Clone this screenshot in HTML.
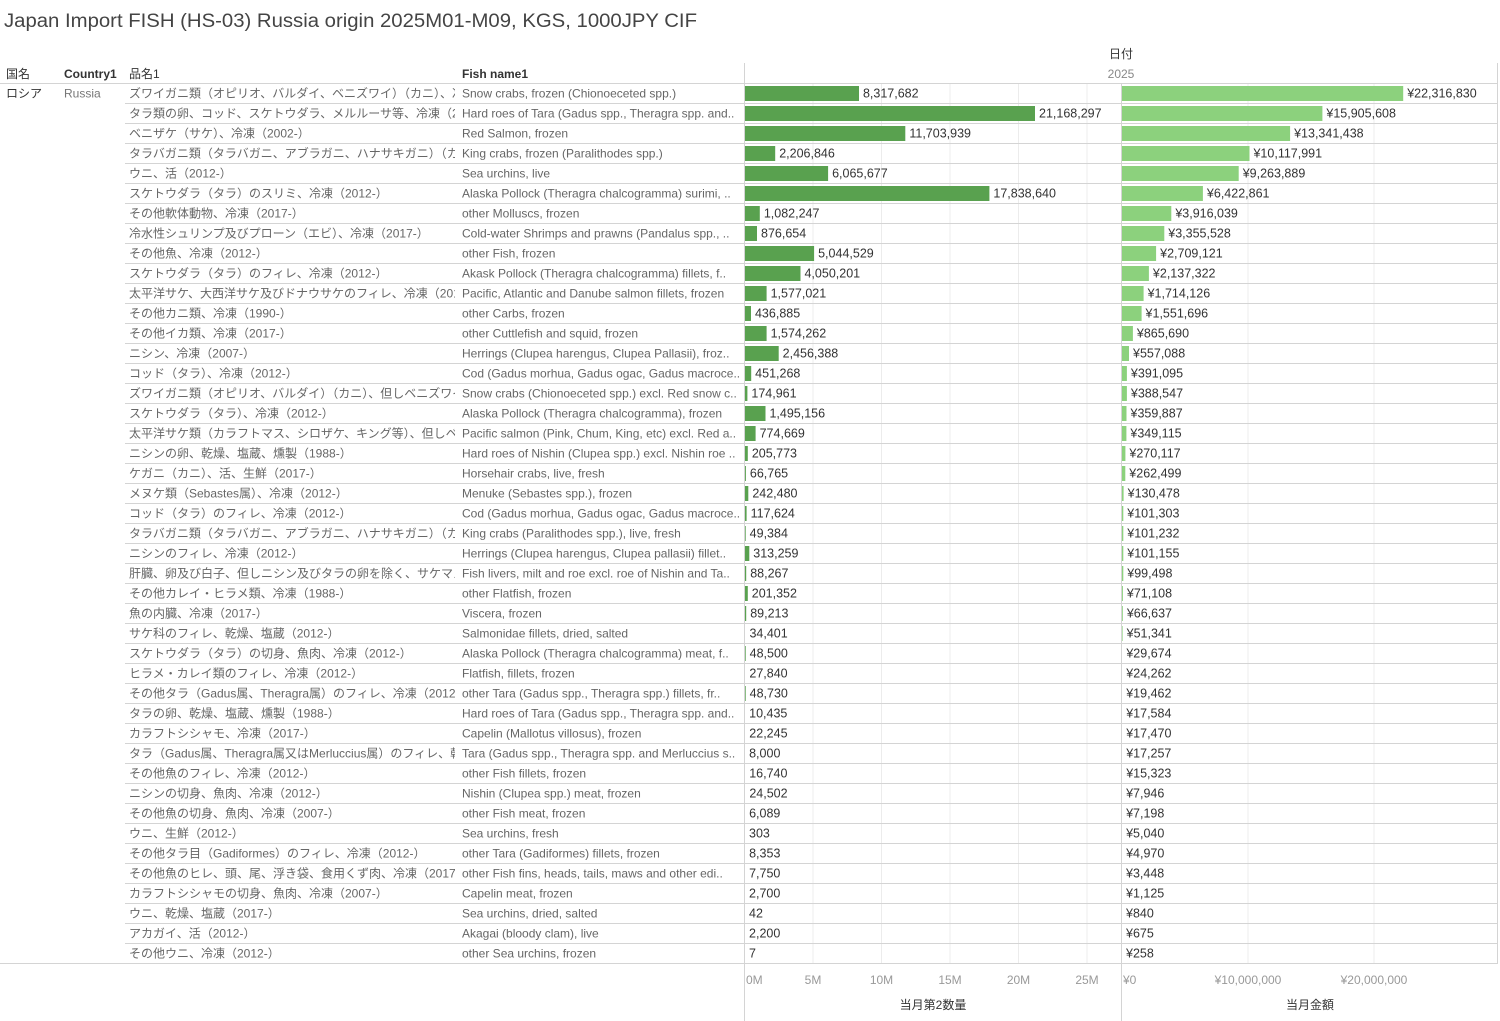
<!DOCTYPE html>
<html><head><meta charset="utf-8"><style>
html,body{margin:0;padding:0;background:#fff;width:1500px;height:1021px;overflow:hidden}
svg text{font-family:"Liberation Sans","Noto Sans CJK JP",sans-serif}
</style></head><body>
<svg id="s" width="1500" height="1021" xmlns="http://www.w3.org/2000/svg"></svg>
<script>
const rows=[
["ズワイガニ類（オピリオ、バルダイ、ベニズワイ）（カニ）、冷凍（19..","Snow crabs, frozen (Chionoeceted spp.)",8317682,22316830],
["タラ類の卵、コッド、スケトウダラ、メルルーサ等、冷凍（2017-）","Hard roes of Tara (Gadus spp., Theragra spp. and..",21168297,15905608],
["ベニザケ（サケ）、冷凍（2002-）","Red Salmon, frozen",11703939,13341438],
["タラバガニ類（タラバガニ、アブラガニ、ハナサキガニ）（カニ）、冷凍..","King crabs, frozen (Paralithodes spp.)",2206846,10117991],
["ウニ、活（2012-）","Sea urchins, live",6065677,9263889],
["スケトウダラ（タラ）のスリミ、冷凍（2012-）","Alaska Pollock (Theragra chalcogramma) surimi, ..",17838640,6422861],
["その他軟体動物、冷凍（2017-）","other Molluscs, frozen",1082247,3916039],
["冷水性シュリンプ及びプローン（エビ）、冷凍（2017-）","Cold-water Shrimps and prawns (Pandalus spp., ..",876654,3355528],
["その他魚、冷凍（2012-）","other Fish, frozen",5044529,2709121],
["スケトウダラ（タラ）のフィレ、冷凍（2012-）","Akask Pollock (Theragra chalcogramma) fillets, f..",4050201,2137322],
["太平洋サケ、大西洋サケ及びドナウサケのフィレ、冷凍（2012-）","Pacific, Atlantic and Danube salmon fillets, frozen",1577021,1714126],
["その他カニ類、冷凍（1990-）","other Carbs, frozen",436885,1551696],
["その他イカ類、冷凍（2017-）","other Cuttlefish and squid, frozen",1574262,865690],
["ニシン、冷凍（2007-）","Herrings (Clupea harengus, Clupea Pallasii), froz..",2456388,557088],
["コッド（タラ）、冷凍（2012-）","Cod (Gadus morhua, Gadus ogac, Gadus macroce..",451268,391095],
["ズワイガニ類（オピリオ、バルダイ）（カニ）、但しベニズワイを除く、..","Snow crabs (Chionoeceted spp.) excl. Red snow c..",174961,388547],
["スケトウダラ（タラ）、冷凍（2012-）","Alaska Pollock (Theragra chalcogramma), frozen",1495156,359887],
["太平洋サケ類（カラフトマス、シロザケ、キング等）、但しベニザケ、..","Pacific salmon (Pink, Chum, King, etc) excl. Red a..",774669,349115],
["ニシンの卵、乾燥、塩蔵、燻製（1988-）","Hard roes of Nishin (Clupea spp.) excl. Nishin roe ..",205773,270117],
["ケガニ（カニ）、活、生鮮（2017-）","Horsehair crabs, live, fresh",66765,262499],
["メヌケ類（Sebastes属）、冷凍（2012-）","Menuke (Sebastes spp.), frozen",242480,130478],
["コッド（タラ）のフィレ、冷凍（2012-）","Cod (Gadus morhua, Gadus ogac, Gadus macroce..",117624,101303],
["タラバガニ類（タラバガニ、アブラガニ、ハナサキガニ）（カニ）、活、..","King crabs (Paralithodes spp.), live, fresh",49384,101232],
["ニシンのフィレ、冷凍（2012-）","Herrings (Clupea harengus, Clupea pallasii) fillet..",313259,101155],
["肝臓、卵及び白子、但しニシン及びタラの卵を除く、サケマス卵、シシ..","Fish livers, milt and roe excl. roe of Nishin and Ta..",88267,99498],
["その他カレイ・ヒラメ類、冷凍（1988-）","other Flatfish, frozen",201352,71108],
["魚の内臓、冷凍（2017-）","Viscera, frozen",89213,66637],
["サケ科のフィレ、乾燥、塩蔵（2012-）","Salmonidae fillets, dried, salted",34401,51341],
["スケトウダラ（タラ）の切身、魚肉、冷凍（2012-）","Alaska Pollock (Theragra chalcogramma) meat, f..",48500,29674],
["ヒラメ・カレイ類のフィレ、冷凍（2012-）","Flatfish, fillets, frozen",27840,24262],
["その他タラ（Gadus属、Theragra属）のフィレ、冷凍（2012-）","other Tara (Gadus spp., Theragra spp.) fillets, fr..",48730,19462],
["タラの卵、乾燥、塩蔵、燻製（1988-）","Hard roes of Tara (Gadus spp., Theragra spp. and..",10435,17584],
["カラフトシシャモ、冷凍（2017-）","Capelin (Mallotus villosus), frozen",22245,17470],
["タラ（Gadus属、Theragra属又はMerluccius属）のフィレ、乾..","Tara (Gadus spp., Theragra spp. and Merluccius s..",8000,17257],
["その他魚のフィレ、冷凍（2012-）","other Fish fillets, frozen",16740,15323],
["ニシンの切身、魚肉、冷凍（2012-）","Nishin (Clupea spp.) meat, frozen",24502,7946],
["その他魚の切身、魚肉、冷凍（2007-）","other Fish meat, frozen",6089,7198],
["ウニ、生鮮（2012-）","Sea urchins, fresh",303,5040],
["その他タラ目（Gadiformes）のフィレ、冷凍（2012-）","other Tara (Gadiformes) fillets, frozen",8353,4970],
["その他魚のヒレ、頭、尾、浮き袋、食用くず肉、冷凍（2017-）","other Fish fins, heads, tails, maws and other edi..",7750,3448],
["カラフトシシャモの切身、魚肉、冷凍（2007-）","Capelin meat, frozen",2700,1125],
["ウニ、乾燥、塩蔵（2017-）","Sea urchins, dried, salted",42,840],
["アカガイ、活（2012-）","Akagai (bloody clam), live",2200,675],
["その他ウニ、冷凍（2012-）","other Sea urchins, frozen",7,258]];
const fmt=n=>n.toLocaleString('en-US');
let h='';
const T=(x,y,t,o)=>{o=o||{};h+=`<text x="${x}" y="${y}" font-size="${o.fs||12.5}" fill="${o.c||'#555'}"${o.a?` text-anchor="${o.a}"`:''}${o.fw?` font-weight="${o.fw}"`:''}${o.tl?` textLength="${o.tl}" lengthAdjust="spacingAndGlyphs"`:''}${o.cp?` clip-path="url(#${o.cp})"`:''}>${t}</text>`;};
const L=(x1,y1,x2,y2,c)=>{h+=`<line x1="${x1}" y1="${y1}" x2="${x2}" y2="${y2}" stroke="${c}" stroke-width="1"/>`;};
h+=`<defs><clipPath id="c1"><rect x="125" y="0" width="330" height="1021"/></clipPath><clipPath id="c2"><rect x="458" y="0" width="284" height="1021"/></clipPath></defs>`;
T(4,27,'Japan Import FISH (HS-03) Russia origin 2025M01-M09, KGS, 1000JPY CIF',{fs:19,c:'#444',tl:693});
T(1121,58,'日付',{fs:12,c:'#333',a:'middle'});
T(1121,78,'2025',{fs:12,c:'#888',a:'middle'});
T(6,78,'国名',{fs:12,c:'#333'});T(64,78,'Country1',{fs:12,c:'#333',fw:'bold'});
T(129,78,'品名1',{fs:12,c:'#333'});T(462,78,'Fish name1',{fs:12,c:'#333',fw:'bold'});
const k1=13.7/1e6,k2=12.6/1e6;
for(let i=1;i<=5;i++){L(744.5+i*68.5,83,744.5+i*68.5,963,'#ececec');}
for(let i=1;i<=2;i++){L(1122+i*126,83,1122+i*126,963,'#ececec');}
rows.forEach((r,i)=>{
 const top=83+20*i,y=top+14.5;
 if(i>0)L(125,top+0.5,1498,top+0.5,'#d4d4d4');
 T(129,y,r[0],{cp:'c1',fs:12,c:'#666'});T(462,y,r[1],{cp:'c2',fs:12,c:'#666'});
 const w1=r[2]*k1;
 if(w1>=0.5)h+=`<rect x="745" y="${top+3}" width="${w1.toFixed(1)}" height="15" fill="#59a14f"/>`;
 T(745+w1+4,y,fmt(r[2]),{c:'#333'});
 const w2=r[3]*k2;
 if(w2>=0.5)h+=`<rect x="1122" y="${top+3}" width="${w2.toFixed(1)}" height="15" fill="#8cd17d"/>`;
 T(1122+w2+4,y,'¥'+fmt(r[3]),{c:'#333'});
});
T(6,97.5,'ロシア',{c:'#333',fs:12});T(64,97.5,'Russia',{c:'#777',fs:12});
L(0,83.5,1498,83.5,'#d4d4d4');L(0,963.5,1498,963.5,'#d4d4d4');
L(744.5,63,744.5,1021,'#d4d4d4');L(1121.5,83,1121.5,1021,'#d4d4d4');L(1497.5,63,1497.5,963,'#d4d4d4');
['0M','5M','10M','15M','20M','25M'].forEach((t,i)=>{const x=744.5+i*68.5;T(i==0?746:x,984,t,{fs:12,c:'#999',a:i==0?'start':'middle'});});
T(1123,984,'¥0',{fs:12,c:'#999'});T(1248,984,'¥10,000,000',{fs:12,c:'#999',a:'middle'});T(1374,984,'¥20,000,000',{fs:12,c:'#999',a:'middle'});
T(933,1009,'当月第2数量',{fs:12,c:'#333',a:'middle'});T(1310,1009,'当月金額',{fs:12,c:'#333',a:'middle'});
document.getElementById('s').innerHTML=h;
</script>
</body></html>
